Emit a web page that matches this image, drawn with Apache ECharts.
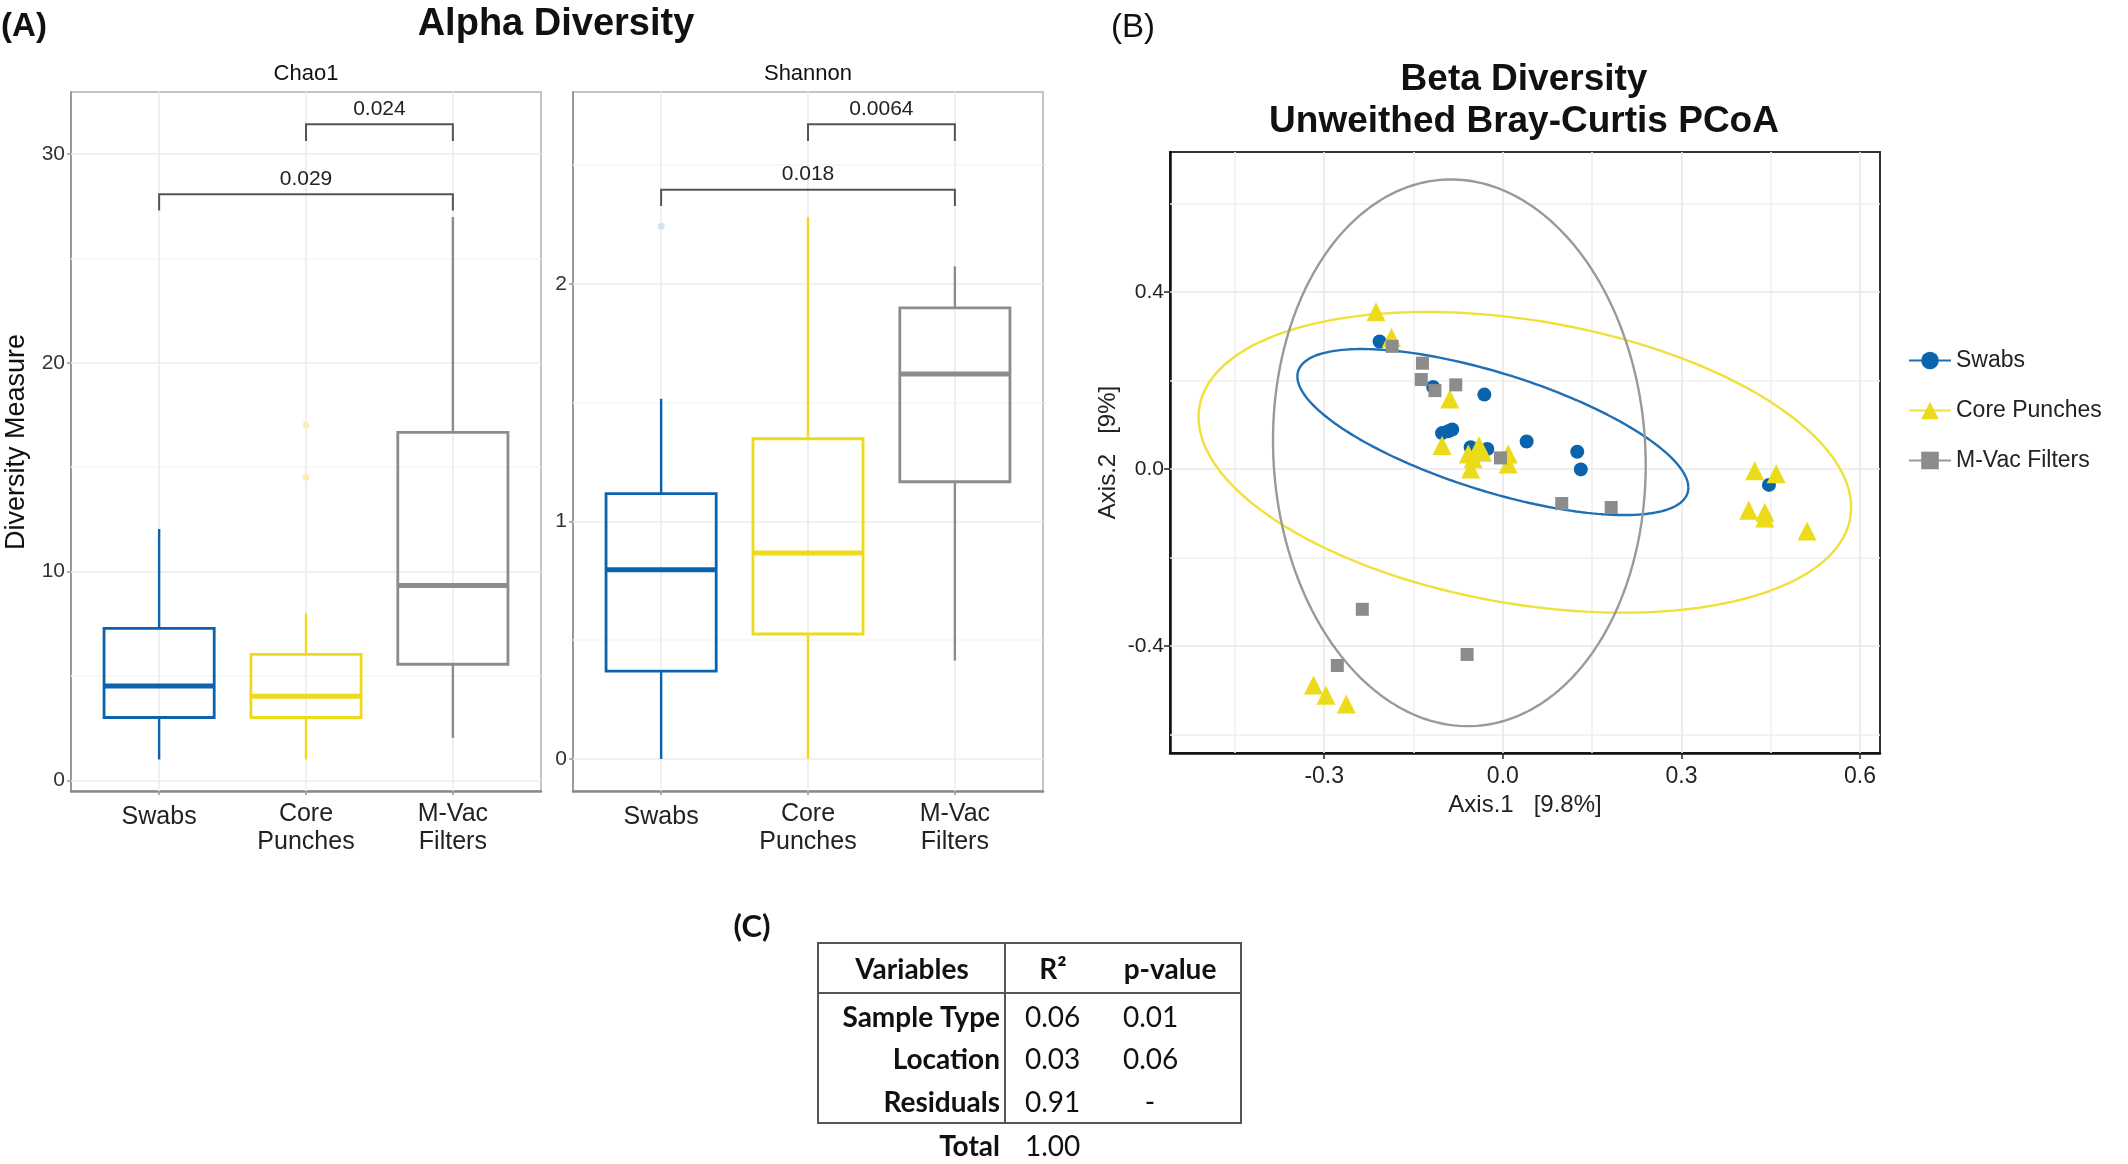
<!DOCTYPE html>
<html><head><meta charset="utf-8">
<script src="https://cdn.jsdelivr.net/npm/echarts@6/dist/echarts.min.js"></script>
<style>html,body{margin:0;padding:0;background:#fff}#c{width:2128px;height:1164px}</style>
</head><body><div id="c"></div>
<script>
// ---------- DATA ----------
const groups = ['Swabs', 'Core Punches', 'M-Vac Filters'];
const boxCategoryLabels = ['Swabs', 'Core\nPunches', 'M-Vac\nFilters'];
// [min, Q1, median, Q3, max]
const chao1Box = [[1.0, 3.01, 4.52, 7.28, 12.04], [1.0, 3.01, 4.03, 6.03, 7.99], [2.03, 5.56, 9.33, 16.67, 26.98]];
const shannonBox = [[0, 0.37, 0.797, 1.117, 1.516], [0, 0.526, 0.867, 1.348, 2.282], [0.414, 1.167, 1.621, 1.899, 2.074]];
// [category position, value]
const chao1Outliers = [[2, 17.02], [2, 14.53]];
const shannonOutliers = [[1, 2.243]];
const chao1Ticks = [0, 10, 20, 30];
const chao1Minor = [5, 15, 25];
const shannonTicks = [0, 1, 2];
const shannonMinor = [0.5, 1.5, 2.5];
// [from cat, to cat, bracket y, tick end y]
const chao1Brackets = [[2, 3, 31.42, 30.62], [1, 3, 28.07, 27.30]];
const chao1PValues = ['0.024', '0.029'];
const shannonBrackets = [[2, 3, 2.672, 2.602], [1, 3, 2.396, 2.328]];
const shannonPValues = ['0.0064', '0.018'];

// PCoA points [Axis.1, Axis.2]
const swabsPts = [[-0.207, 0.288], [-0.117, 0.185], [-0.031, 0.168], [-0.102, 0.081], [-0.092, 0.085], [-0.085, 0.089],
  [-0.054, 0.049], [-0.026, 0.045], [0.040, 0.062], [0.125, 0.039], [0.131, -0.001], [0.447, -0.036]];
const corePts = [[-0.213, 0.355], [-0.187, 0.297], [-0.089, 0.158], [-0.102, 0.053], [-0.058, 0.034], [-0.040, 0.053],
  [-0.034, 0.038], [-0.050, 0.023], [-0.054, 0.0], [0.009, 0.034], [0.009, 0.011], [0.423, -0.004], [0.459, -0.011],
  [0.413, -0.093], [0.440, -0.098], [0.440, -0.111], [0.511, -0.140], [-0.318, -0.488], [-0.297, -0.511], [-0.263, -0.531]];
const mvacPts = [[-0.186, 0.277], [-0.135, 0.239], [-0.137, 0.202], [-0.114, 0.177], [-0.079, 0.190], [-0.004, 0.025],
  [0.099, -0.078], [0.182, -0.087], [-0.236, -0.317], [-0.278, -0.444], [-0.060, -0.419]];
// 95% ellipses: [centre x, centre y, half-width x, half-height y, correlation]
const ellipseSwabs = [-0.0167, 0.0834, 0.3284, 0.1875, -0.6705];
const ellipseCore = [0.037, 0.015, 0.548, 0.3396, -0.300];
const ellipseMvac = [-0.073, 0.0365, 0.313, 0.6175, -0.045];
const pcoaXTicks = [-0.3, 0.0, 0.3, 0.6];
const pcoaXMinor = [-0.45, -0.15, 0.15, 0.45];
const pcoaYTicks = [-0.4, 0.0, 0.4];
const pcoaYMinor = [-0.6, -0.2, 0.2, 0.6];

// PERMANOVA table
const tableHeader = ['Variables', 'R²', 'p-value'];
const tableRows = ['Sample Type', 'Location', 'Residuals', 'Total'];
const tableR2 = ['0.06', '0.03', '0.91', '1.00'];
const tableP = ['0.01', '0.06', '-', ''];

// ---------- STYLE ----------
const F = 'Liberation Sans, Arial, sans-serif';
const FT = 'Lato, Open Sans, sans-serif';
const groupColors = ['#0b62ad', '#ecdb1a', '#8c8c8c'];
const ellipseColors = ['#1f6fb5', '#efe03a', '#9a9a9a'];
const groupSymbols = ['circle', 'triangle', 'rect'];
const groupSizes = [14, 19, 13];

function ellipsePts(p) {
  const cx = p[0], cy = p[1], hx = p[2], hy = p[3], r = p[4];
  const s = Math.sqrt(1 - r * r), out = [];
  for (let i = 0; i <= 200; i++) {
    const t = 2 * Math.PI * i / 200;
    out.push([cx + hx * Math.cos(t), cy + hy * (r * Math.cos(t) + s * Math.sin(t))]);
  }
  return out;
}

function boxRender(params, api) {
  const x = api.value(0), mn = api.value(1), q1 = api.value(2), md = api.value(3), q3 = api.value(4), mx = api.value(5);
  const c = groupColors[params.dataIndex];
  const h = 0.375;
  const tl = api.coord([x - h, q3]), br = api.coord([x + h, q1]);
  const pMin = api.coord([x, mn]), pQ1 = api.coord([x, q1]), pQ3 = api.coord([x, q3]), pMax = api.coord([x, mx]);
  const mL = api.coord([x - h, md]), mR = api.coord([x + h, md]);
  return {
    type: 'group', children: [
      { type: 'line', shape: { x1: pMin[0], y1: pMin[1], x2: pQ1[0], y2: pQ1[1] }, style: { stroke: c, lineWidth: 2.4 } },
      { type: 'line', shape: { x1: pQ3[0], y1: pQ3[1], x2: pMax[0], y2: pMax[1] }, style: { stroke: c, lineWidth: 2.4 } },
      { type: 'rect', shape: { x: tl[0], y: tl[1], width: br[0] - tl[0], height: br[1] - tl[1] }, style: { fill: 'rgba(255,255,255,0)', stroke: c, lineWidth: 2.8 } },
      { type: 'line', shape: { x1: mL[0], y1: mL[1], x2: mR[0], y2: mR[1] }, style: { stroke: c, lineWidth: 5 } }
    ]
  };
}

function bracketRender(labels) {
  return function (params, api) {
    const x1 = api.value(0), x2 = api.value(1), y = api.value(2), yt = api.value(3);
    const a = api.coord([x1, yt]), b = api.coord([x1, y]), c = api.coord([x2, y]), d = api.coord([x2, yt]);
    return {
      type: 'group', children: [
        { type: 'polyline', shape: { points: [a, b, c, d] }, style: { stroke: '#555', lineWidth: 2, fill: null } },
        { type: 'text', x: (b[0] + c[0]) / 2, y: b[1] - 5, style: { text: labels[params.dataIndex], align: 'center', verticalAlign: 'bottom', fontSize: 21, fontFamily: F, fill: '#222' } }
      ]
    };
  };
}

function gridLines(xi, xs, ys, color) {
  return {
    type: 'line', xAxisIndex: xi, yAxisIndex: xi, data: [], silent: true, z: 1,
    markLine: {
      silent: true, z: 1, zlevel: 0, symbol: ['none', 'none'], animation: false, label: { show: false },
      lineStyle: { color: color, width: 1.6, type: 'solid' },
      emphasis: { disabled: true },
      data: xs.map(v => ({ xAxis: v })).concat(ys.map(v => ({ yAxis: v })))
    }
  };
}

const boxPanels = [
  { left: 71, ymin: -0.51, ymax: 32.97, ticks: chao1Ticks, minor: chao1Minor, box: chao1Box, out: chao1Outliers, br: chao1Brackets, pv: chao1PValues },
  { left: 573, ymin: -0.135, ymax: 2.808, ticks: shannonTicks, minor: shannonMinor, box: shannonBox, out: shannonOutliers, br: shannonBrackets, pv: shannonPValues }
];

function catLabel(v) {
  const s = boxCategoryLabels[Math.round(v) - 1];
  return s.indexOf('\n') < 0 ? '{one|' + s + '}' : s;
}

const grids = [], xAxes = [], yAxes = [], series = [];
boxPanels.forEach((p, i) => {
  grids.push({ left: p.left, top: 92, width: 470, height: 699, show: true, borderColor: '#c4c4c4', borderWidth: 2, containLabel: false });
  xAxes.push({
    gridIndex: i, type: 'value', min: 0.4, max: 3.6,
    axisLine: { show: true, onZero: false, lineStyle: { color: '#8a8a8a', width: 2.5 } },
    axisTick: { show: true, customValues: [1, 2, 3], length: 4, lineStyle: { color: '#999', width: 1.5 } },
    axisLabel: {
      customValues: [1, 2, 3], formatter: catLabel, fontSize: 25, lineHeight: 28, color: '#222', fontFamily: F, margin: 9,
      rich: { one: { fontSize: 25, lineHeight: 28, color: '#222', fontFamily: F, padding: [7, 0, 0, 0] } }
    },
    splitLine: { show: false }
  });
  yAxes.push({
    gridIndex: i, type: 'value', min: p.ymin, max: p.ymax,
    axisLine: { show: true, onZero: false, lineStyle: { color: '#9a9a9a', width: 2 } },
    axisTick: { show: true, customValues: p.ticks, length: 4, lineStyle: { color: '#999', width: 1.5 } },
    axisLabel: { customValues: p.ticks, fontSize: 21, color: '#333', fontFamily: F, margin: 6 },
    splitLine: { show: false }
  });
  series.push(gridLines(i, [], p.minor, '#f6f6f6'));
  series.push(gridLines(i, [1, 2, 3], p.ticks, '#ececec'));
  series.push({
    type: 'custom', xAxisIndex: i, yAxisIndex: i, z: 6, renderItem: boxRender, silent: true,
    encode: { x: 0, y: [1, 2, 3, 4, 5] },
    data: p.box.map((b, k) => [k + 1].concat(b))
  });
  series.push({
    type: 'scatter', xAxisIndex: i, yAxisIndex: i, z: 6, silent: true, symbolSize: 7,
    data: p.out.map(o => ({ value: o, itemStyle: { opacity: 1, color: o[0] === 1 ? '#d3e2f2' : '#f7f0b8' } }))
  });
  series.push({
    type: 'custom', xAxisIndex: i, yAxisIndex: i, z: 6, renderItem: bracketRender(p.pv), silent: true,
    encode: { x: [0, 1], y: [2, 3] },
    data: p.br
  });
});

// PCoA panel
grids.push({ left: 1170, top: 152, width: 710, height: 601, show: true, borderColor: '#333', borderWidth: 2 });
xAxes.push({
  gridIndex: 2, type: 'value', min: -0.559, max: 0.6335,
  name: 'Axis.1   [9.8%]', nameLocation: 'middle', nameGap: 40, nameTextStyle: { fontSize: 24, color: '#222', fontFamily: F },
  axisLine: { show: true, onZero: false, lineStyle: { color: '#111', width: 2.5 } },
  axisTick: { show: true, customValues: pcoaXTicks, length: 6, lineStyle: { color: '#222', width: 1.5 } },
  axisLabel: { customValues: pcoaXTicks, formatter: v => v.toFixed(1), fontSize: 23, color: '#222', fontFamily: F, margin: 12 },
  splitLine: { show: false }
});
yAxes.push({
  gridIndex: 2, type: 'value', min: -0.6416, max: 0.716,
  name: 'Axis.2   [9%]', nameLocation: 'middle', nameGap: 50, nameRotate: 90, nameTextStyle: { fontSize: 24, color: '#222', fontFamily: F },
  axisLine: { show: true, onZero: false, lineStyle: { color: '#111', width: 2.5 } },
  axisTick: { show: true, customValues: pcoaYTicks, length: 6, lineStyle: { color: '#222', width: 1.5 } },
  axisLabel: { customValues: pcoaYTicks, formatter: v => v.toFixed(1), fontSize: 21, color: '#222', fontFamily: F, margin: 6 },
  splitLine: { show: false }
});
series.push(gridLines(2, pcoaXMinor, pcoaYMinor, '#efefef'));
series.push(gridLines(2, pcoaXTicks, pcoaYTicks, '#e8e8e8'));
const ellipses = [ellipseSwabs, ellipseCore, ellipseMvac];
const ptsets = [swabsPts, corePts, mvacPts];
groups.forEach((g, k) => {
  series.push({
    type: 'line', name: g, xAxisIndex: 2, yAxisIndex: 2, z: 5, silent: true, showSymbol: false,
    symbol: groupSymbols[k], symbolSize: groupSizes[k], smooth: false,
    itemStyle: { color: groupColors[k] },
    lineStyle: { color: ellipseColors[k], width: 2.4 },
    data: ellipsePts(ellipses[k])
  });
});
groups.forEach((g, k) => {
  series.push({
    type: 'scatter', name: g, xAxisIndex: 2, yAxisIndex: 2, z: 7, silent: true,
    symbol: groupSymbols[k], symbolSize: groupSizes[k],
    itemStyle: { color: groupColors[k], opacity: 1 },
    data: ptsets[k]
  });
});

// ---------- TEXT / TABLE ----------
const g = [];
function txt(x, y, text, size, opts) {
  opts = opts || {};
  g.push({
    type: 'text', x: x, y: y, rotation: opts.rot || 0, silent: true,
    style: { text: text, align: opts.align || 'center', verticalAlign: 'middle', fontSize: size, fontWeight: opts.bold ? 'bold' : 'normal', fontFamily: opts.font || F, fill: opts.color || '#111' }
  });
}
txt(24, 27, '(A)', 33, { bold: true });
txt(556, 25, 'Alpha Diversity', 38, { bold: true });
txt(306, 74, 'Chao1', 22);
txt(808, 74, 'Shannon', 22);
txt(17, 442, 'Diversity Measure', 27, { rot: Math.PI / 2 });
txt(1133, 28, '(B)', 33);
txt(1524, 80, 'Beta Diversity', 37, { bold: true });
txt(1524, 122, 'Unweithed Bray-Curtis PCoA', 37, { bold: true });
txt(752, 927, '(C)', 31, { bold: true, font: FT });

// table
g.push({ type: 'rect', silent: true, shape: { x: 818, y: 943, width: 423, height: 180 }, style: { fill: 'none', stroke: '#555', lineWidth: 2 } });
g.push({ type: 'line', silent: true, shape: { x1: 818, y1: 993, x2: 1241, y2: 993 }, style: { stroke: '#555', lineWidth: 2 } });
g.push({ type: 'line', silent: true, shape: { x1: 1005, y1: 943, x2: 1005, y2: 1123 }, style: { stroke: '#555', lineWidth: 2 } });
const headerX = [912, 1053, 1170];
tableHeader.forEach((h, i) => txt(headerX[i], 970, h, 28, { bold: true, font: FT }));
const rowY = [1018, 1060, 1103, 1147];
tableRows.forEach((r, i) => {
  txt(1000, rowY[i], r, 28, { bold: true, font: FT, align: 'right' });
  txt(1025, rowY[i], tableR2[i], 28, { font: FT, align: 'left' });
  if (tableP[i] === '-') txt(1150, rowY[i], tableP[i], 28, { font: FT });
  else if (tableP[i]) txt(1123, rowY[i], tableP[i], 28, { font: FT, align: 'left' });
});

const chart = echarts.init(document.getElementById('c'), null, { renderer: 'canvas' });
chart.setOption({
  animation: false,
  backgroundColor: '#fff',
  grid: grids, xAxis: xAxes, yAxis: yAxes, series: series,
  legend: {
    data: groups, orient: 'vertical', left: 1903, top: 344, itemWidth: 42, itemHeight: 22, itemGap: 27,
    textStyle: { fontSize: 23, color: '#222', fontFamily: F }, selectedMode: false
  },
  graphic: g
});
</script></body></html>
